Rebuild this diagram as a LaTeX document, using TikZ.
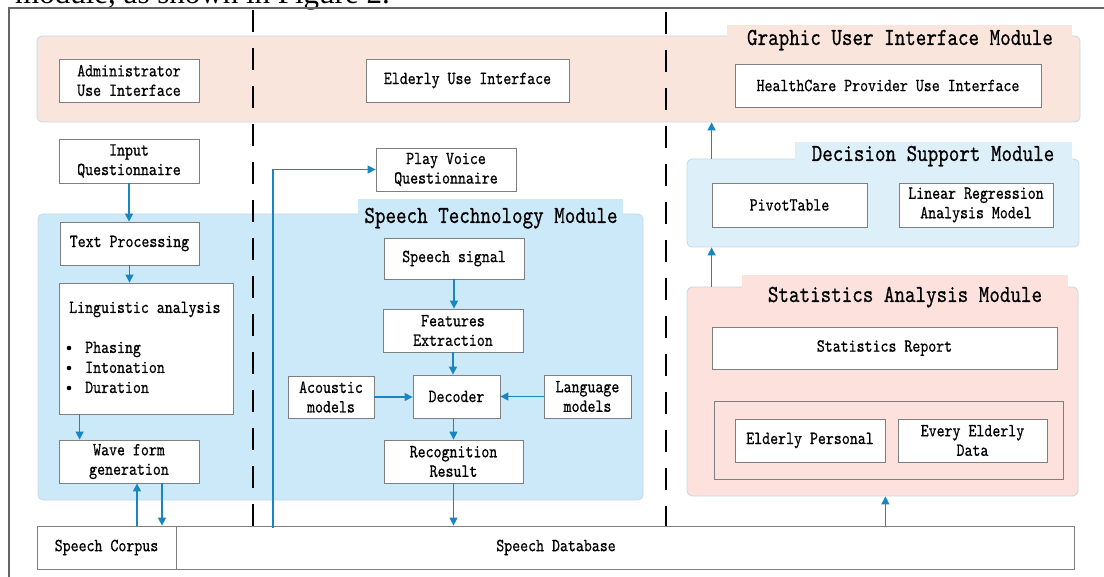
\documentclass[tikz,border=0pt]{standalone}
\usepackage{fontspec}
\usepackage[dvipsnames]{xcolor}
\usetikzlibrary{positioning, arrows.meta, calc}

\newfontfamily\labfont{lmmono10-regular.otf}[FakeStretch=0.82, FakeBold=0.6]
\newfontfamily\headfont{Liberation Serif}
\newcommand\labsize{\labfont\fontsize{18.5}{19.5}\selectfont}
\newcommand\titlesize{\labfont\fontsize{24.5}{26}\selectfont}

\definecolor{guipink}{HTML}{F9E5DC}
\definecolor{stmblue}{HTML}{CCE9F9}
\definecolor{dsmblue}{HTML}{DDF0FA}
\definecolor{sampink}{HTML}{FCE1DD}
\definecolor{rim}{HTML}{C5D9E5}
\definecolor{flow}{HTML}{1A86BF}
\definecolor{edge}{HTML}{7F7F7F}

\begin{document}
\begin{tikzpicture}[x=1pt, y=-1pt,
    box/.style={draw=edge, line width=0.8pt, fill=white, font=\labsize, align=center, inner sep=0pt},
    panel/.style={draw=rim, line width=0.8pt, rounded corners=5pt, inner sep=0pt},
    title/.style={font=\titlesize, anchor=base, inner sep=0pt},
    txt/.style={font=\labsize, anchor=base west, inner sep=0pt},
    link/.style={draw=flow, line width=1.3pt, ->},
    sep/.style={line width=2.6pt, dash pattern=on 22pt off 16pt},
    >={Triangle[length=8pt, width=8pt]}]
        \clip (0,0) rectangle (1104,577);
        \node[anchor=base east, font=\headfont\fontsize{31}{31}\selectfont, inner sep=0pt] (cap) at (390,4) {module, as shown in Figure 2.};
        \draw[black!60, line width=1.2pt] (9,600) -- (9,8) -- (1120,8);

        % modules
        \node[panel, fill=guipink, minimum width=1043pt, minimum height=86pt] (gui) at (558.5,79) {};
        \fill[guipink] (727,25) rectangle (1072,37);
        \node[title] (guit) at (900,45) {Graphic User Interface Module};

        \node[panel, fill=stmblue, minimum width=605pt, minimum height=286pt] (stm) at (340.5,357) {};
        \fill[stmblue] (358,199) rectangle (623,215);
        \node[title] (stmt) at (491,223) {Speech Technology Module};

        \node[panel, fill=dsmblue, minimum width=392pt, minimum height=88pt] (dsm) at (883,203) {};
        \fill[dsmblue] (795,142) rectangle (1072,160);
        \node[title] (dsmt) at (933,161) {Decision Support Module};

        \node[panel, fill=sampink, minimum width=391pt, minimum height=209pt] (sam) at (882.5,391.5) {};
        \fill[sampink] (742,275) rectangle (1068,288);
        \node[title] (samt) at (905,302) {Statistics Analysis Module};

        \draw[sep] (253,10) -- (253,526);
        \draw[sep] (666,12) -- (666,526);

        % interfaces
        \node[box, minimum width=140pt, minimum height=43pt] (admin) at (129,80.5) {Administrator\\Use Interface};
        \node[box, minimum width=203pt, minimum height=43pt] (elder) at (467.5,80.5) {Elderly Use Interface};
        \node[box, minimum width=306pt, minimum height=43pt] (hcp) at (888,85.5) {HealthCare Provider Use Interface};

        % speech synthesis side
        \node[box, minimum width=140pt, minimum height=44pt] (inq) at (129,161) {Input\\Questionnaire};
        \node[box, minimum width=139pt, minimum height=43pt] (tp) at (129.5,243.5) {Text Processing};
        \node[box, minimum width=174pt, minimum height=131pt] (ling) at (146,348.5) {};
        \node[txt] (lingt) at (69,313) {Linguistic analysis};
        \foreach \w [count=\i] in {Phasing, Intonation, Duration} {
            \fill (69,{328+20*\i}) circle (2.3pt);
            \node[txt] (b\i) at (85,{333+20*\i}) {\w};
        }
        \node[box, minimum width=140pt, minimum height=43pt] (wave) at (129,461.5) {Wave form\\generation};

        % speech recognition side
        \node[box, minimum width=140pt, minimum height=43pt] (play) at (446,169.5) {Play Voice\\Questionnaire};
        \node[box, minimum width=140pt, minimum height=41pt] (sig) at (454,258.5) {Speech signal};
        \node[box, minimum width=140pt, minimum height=43pt] (feat) at (453,330.5) {Features\\Extraction};
        \node[box, minimum width=86pt, minimum height=42pt] (ac) at (331,397) {Acoustic\\models};
        \node[box, minimum width=87pt, minimum height=43pt] (dec) at (456.5,396.5) {Decoder};
        \node[box, minimum width=87pt, minimum height=43pt] (lang) at (587.5,396.5) {Language\\models};
        \node[box, minimum width=139pt, minimum height=43pt] (rr) at (453.5,461.5) {Recognition\\Result};

        % storage
        \node[box, minimum width=139pt, minimum height=43pt] (corpus) at (106.5,547.5) {Speech Corpus};
        \node[box, minimum width=898pt, minimum height=43pt, label={[font=\labsize, xshift=-69pt]center:Speech Database}] (db) at (625,547.5) {};

        % decision and statistics
        \node[box, minimum width=155pt, minimum height=44pt] (pivot) at (789.5,205) {PivotTable};
        \node[box, minimum width=154pt, minimum height=44pt] (linreg) at (976,205) {Linear Regression\\Analysis Model};
        \node[box, minimum width=345pt, minimum height=42pt] (srep) at (884.5,348) {Statistics Report};
        \node[box, fill=sampink, minimum width=349pt, minimum height=78pt] (edata) at (888.5,440) {};
        \node[box, minimum width=150pt, minimum height=43pt] (pers) at (810,440.5) {Elderly Personal};
        \node[box, minimum width=149pt, minimum height=43pt] (every) at (972.5,440.5) {Every Elderly\\Data};

        % flows
        \draw[link] (inq.south) -- (inq.south |- tp.north);
        \draw[link] (tp.south) -- (tp.south |- ling.north);
        \draw[link] ([xshift=21pt]ling.south west) -- ([xshift=21pt]ling.south west |- wave.north);
        \draw[link] ([xshift=8pt]wave.south |- corpus.north) -- ([xshift=8pt]wave.south);
        \draw[link] ([xshift=33pt]wave.south) -- ([xshift=33pt]wave.south |- corpus.north);
        \draw[link] (sig.south) -- (sig.south |- feat.north);
        \draw[link] (feat.south) -- (feat.south |- dec.north);
        \draw[link] (ac) -- (ac -| dec.west);
        \draw[link] (lang) -- (lang -| dec.east);
        \draw[link] (rr.north |- dec.south) -- (rr.north);
        \draw[link] (rr.south) -- (rr.south |- db.north);
        \coordinate (feed) at (273,528);
        \draw[link] (feed) |- (play.west);
        \draw[link] (dsm.north -| pivot.west) -- (gui.south -| pivot.west);
        \draw[link] (sam.north -| pivot.west) -- (dsm.south -| pivot.west);
        \draw[link] (db.north -| pers.east) -- (sam.south -| pers.east);
\end{tikzpicture}
\end{document}
